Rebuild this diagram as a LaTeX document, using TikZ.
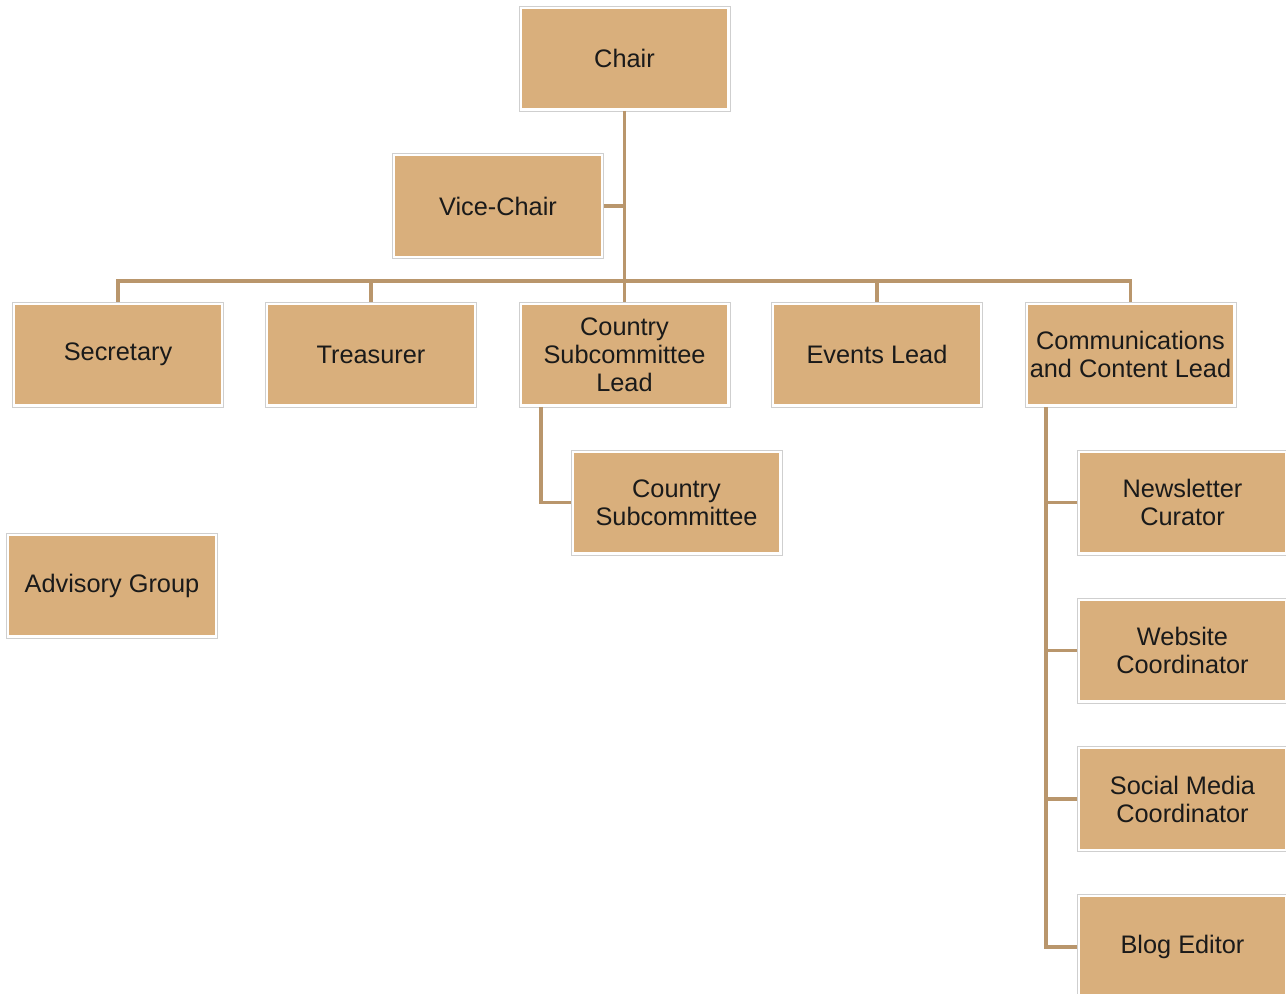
\documentclass[tikz,border=0pt]{standalone}
\usepackage{fontspec}
\setmainfont{Liberation Sans}
\definecolor{boxfill}{HTML}{D9AF7C}
\definecolor{boxedge}{HTML}{CFCFCF}
\definecolor{conn}{HTML}{B9966C}
\definecolor{txt}{HTML}{1A1A1A}
\begin{document}
\begin{tikzpicture}[x=0.75pt,y=-0.75pt,
  orgbox/.style={rectangle, draw=boxedge, line width=0.6pt, fill=white,
    minimum width=158.25pt, minimum height=78.75pt, inner sep=0pt, outer sep=0pt,
    align=center, text=txt, font=\fontsize{19}{21}\selectfont,
    path picture={\fill[boxfill] ([shift={(2pt,-2pt)}]path picture bounding box.north west) rectangle ([shift={(-2pt,2pt)}]path picture bounding box.south east);}},
  link/.style={draw=conn, line width=2.3pt}]
\useasboundingbox (0,0) rectangle (1286,994);
\coordinate (busL) at (118,281);
\coordinate (busR) at (1130.5,281);
\coordinate (cslv) at (541,0);
\coordinate (comv) at (1046,0);
\node[orgbox] (chair) at (624.5,58.5) {Chair};
\node[orgbox] (vice) at (498,206) {Vice-Chair};
\node[orgbox] (sec) at (118,354.5) {Secretary};
\node[orgbox] (tre) at (371,354.5) {Treasurer};
\node[orgbox] (csl) at (624.5,354.5) {Country\\Subcommittee\\Lead};
\node[orgbox] (evt) at (877,354.5) {Events Lead};
\node[orgbox] (com) at (1130.5,354.5) {Communications\\and Content Lead};
\node[orgbox] (cs) at (676.5,502.5) {Country\\Subcommittee};
\node[orgbox] (adv) at (112,585.5) {Advisory Group};
\node[orgbox] (news) at (1182.5,502.5) {Newsletter\\Curator};
\node[orgbox] (web) at (1182.5,650.5) {Website\\Coordinator};
\node[orgbox] (soc) at (1182.5,799) {Social Media\\Coordinator};
\node[orgbox] (blog) at (1182.5,947) {Blog Editor};
\begin{scope}[link]
\draw (chair.south) -- (csl.north);
\draw (vice.east) -- (vice.east -| chair.south);
\draw (sec.north) -- (busL) -- (busR) -- (com.north);
\draw (tre.north) -- (tre.north |- busL);
\draw (evt.north) -- (evt.north |- busL);
\draw (cslv |- csl.south) |- (cs.west);
\draw (comv |- com.south) |- (blog.west);
\draw (comv |- news.west) -- (news.west);
\draw (comv |- web.west) -- (web.west);
\draw (comv |- soc.west) -- (soc.west);
\end{scope}
\end{tikzpicture}
\end{document}
